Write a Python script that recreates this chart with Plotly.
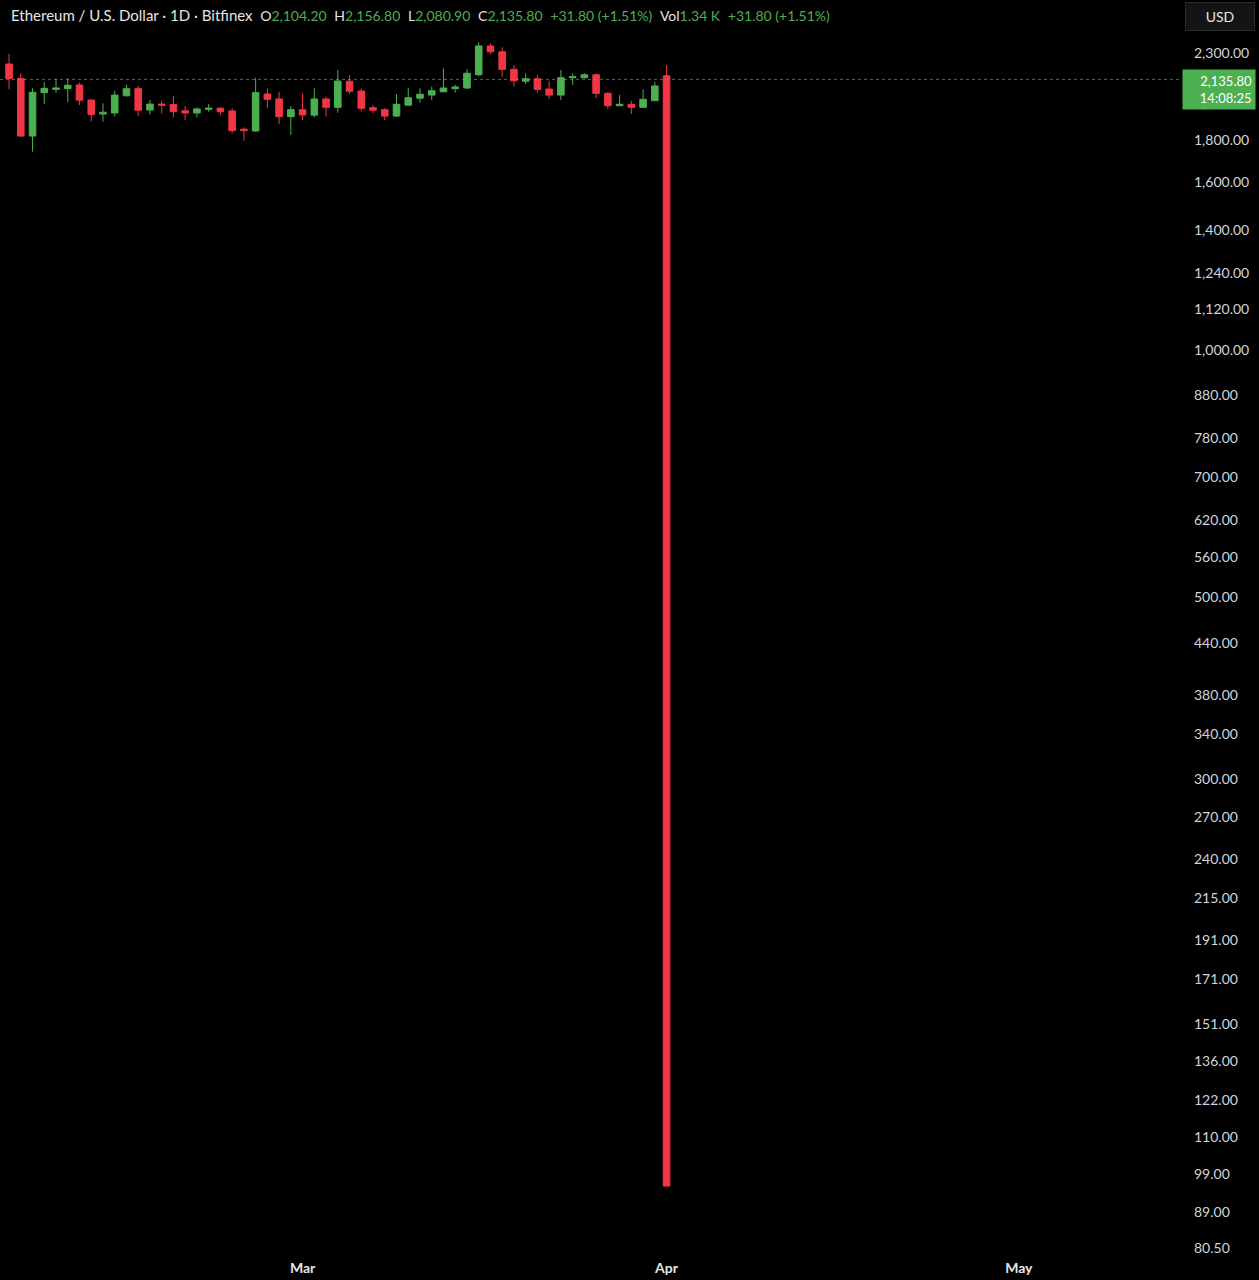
import plotly.graph_objects as go
import pandas as pd
import math

# ---------------- data ----------------
dates = pd.date_range("2025-02-04", "2025-04-01", freq="D")

opens = [2230, 2142, 1822, 2058, 2077, 2081, 2103, 2016, 1938, 1944,
         2040, 2081, 1960, 1993, 1990, 1956, 1944, 1964, 1970, 1955,
         1857, 1848, 2050, 2022, 1924, 1962, 1932, 2022, 1975, 2125,
         2067, 1973, 1962, 1927, 1987, 2026, 2044, 2063, 2081, 2085,
         2164, 2346, 2308, 2197, 2125, 2140, 2079, 2044, 2146, 2146,
         2164, 2054, 1984, 1992, 1975, 2012, 2158]
highs = [2294, 2173, 2083, 2119, 2142, 2142, 2116, 2020, 1997, 2069,
         2103, 2097, 2016, 2012, 2039, 1982, 1975, 1993, 1975, 1970,
         1867, 2146, 2083, 2063, 1982, 2054, 2083, 2035, 2193, 2161,
         2083, 1988, 1970, 2049, 2087, 2083, 2093, 2203, 2103, 2197,
         2370, 2363, 2337, 2224, 2173, 2162, 2128, 2193, 2173, 2173,
         2173, 2063, 2044, 2012, 2077, 2122, 2224]
lows = [2077, 1820, 1744, 1993, 2058, 2005, 1988, 1897, 1897, 1924,
        2035, 1927, 1935, 1942, 1920, 1906, 1920, 1951, 1933, 1836,
        1798, 1845, 1970, 1885, 1827, 1906, 1920, 1924, 1945, 2050,
        1951, 1942, 1906, 1922, 1982, 2001, 2016, 2062, 2058, 2079,
        2156, 2292, 2152, 2093, 2108, 2058, 2020, 2016, 2103, 2142,
        2026, 1966, 1982, 1938, 1971, 2010, 95.8]
closes = [2142, 1822, 2060, 2083, 2085, 2101, 2015, 1935, 1948, 2044,
          2081, 1959, 1993, 1987, 1951, 1944, 1966, 1970, 1951, 1850,
          1850, 2058, 2020, 1924, 1962, 1933, 2022, 1975, 2126, 2066,
          1970, 1959, 1927, 1992, 2029, 2049, 2069, 2085, 2091, 2173,
          2346, 2308, 2197, 2128, 2140, 2077, 2044, 2146, 2152, 2164,
          2054, 1984, 1992, 1975, 2020, 2097, 95.8]

last_price = 2135.80
countdown = "14:08:25"
header_name = "Ethereum / U.S. Dollar · 1D · Bitfinex"
header_vals = [("O", "2,104.20"), ("H", "2,156.80"), ("L", "2,080.90"), ("C", "2,135.80")]
header_change = "+31.80 (+1.51%)"
header_vol = "1.34 K"

y_ticks = [2300, 2000, 1800, 1600, 1400, 1240, 1120, 1000, 880, 780, 700, 620,
           560, 500, 440, 380, 340, 300, 270, 240, 215, 191, 171, 151, 136,
           122, 110, 99, 89, 80.5]
x_tick_dates = ["2025-03-01", "2025-04-01", "2025-05-01"]
x_tick_text = ["Mar", "Apr", "May"]

# ---------------- style ----------------
GREEN = "#4caf50"
RED = "#f23645"
BG = "#000000"
TXT = "#d1d4dc"
FONT = "Lato"

W, H = 1259, 1280
ML, MR, MT, MB = 0, 77, 30, 25
PW = W - ML - MR
PH = H - MT - MB

fig = go.Figure()
fig.add_trace(go.Candlestick(
    x=dates, open=opens, high=highs, low=lows, close=closes,
    increasing=dict(line=dict(color=GREEN, width=1), fillcolor=GREEN),
    decreasing=dict(line=dict(color=RED, width=1), fillcolor=RED),
    whiskerwidth=0, showlegend=False, hoverinfo="skip",
))

# last price dotted line
fig.add_shape(type="line", xref="paper", x0=0, x1=1, yref="y",
              y0=last_price, y1=last_price,
              line=dict(color=GREEN, width=1, dash="dot"), opacity=0.7)

# header
sp = "\u00a0"
W14 = 'style="font-size:14px;color:{c}"'
parts = [f'<span style="color:#e6e6e6">{header_name}</span>']
for lab, val in header_vals:
    parts.append(f'<span style="font-size:14px;color:#e6e6e6">{lab}</span>'
                 f'<span style="font-size:14px;color:{GREEN}">{val}</span>')
parts.append(f'<span style="font-size:14px;color:{GREEN}">{header_change}</span>')
parts.append(f'<span style="font-size:14px;color:#e6e6e6">Vol</span>'
             f'<span style="font-size:14px;color:{GREEN}">{header_vol}</span>')
parts.append(f'<span style="font-size:14px;color:{GREEN}">{header_change}</span>')
header = (sp * 2).join(parts)
fig.add_annotation(text=header, xref="paper", yref="paper",
                   x=9 / PW, y=1 + (MT - 15) / PH, xanchor="left", yanchor="middle",
                   showarrow=False, font=dict(family=FONT, size=15, color="#e6e6e6"))

# USD button
fig.add_annotation(text="USD", xref="paper", yref="paper",
                   x=(1220 - ML) / PW, y=1 + (MT - 16) / PH, xanchor="center", yanchor="middle",
                   showarrow=False, font=dict(family=FONT, size=14, color="#e6e6e6"),
                   bgcolor="#141414", bordercolor="#2a2a2a", borderwidth=1,
                   borderpad=5, width=58)

# last price label
fig.add_annotation(text=f"{last_price:,.2f}<br>{countdown}", xref="paper", yref="y",
                   x=1, y=math.log10(last_price), xanchor="left", yanchor="top",
                   yshift=10, showarrow=False, align="right",
                   font=dict(family=FONT, size=13, color="#ffffff"),
                   bgcolor=GREEN, borderpad=3, width=66)

fig.update_layout(
    width=W, height=H,
    margin=dict(l=ML, r=MR, t=MT, b=MB),
    paper_bgcolor=BG, plot_bgcolor=BG,
    boxgap=0.2,
    xaxis=dict(
        type="date", rangeslider=dict(visible=False),
        range=["2025-02-03 05:30", "2025-05-14 21:36"],
        tickvals=x_tick_dates, ticktext=x_tick_text,
        showgrid=False, zeroline=False, showline=False, ticks="",
        ticklabelstandoff=3,
        tickfont=dict(family=FONT, size=14, color="#e6e6e6", weight="bold"),
    ),
    yaxis=dict(
        type="log", side="right",
        range=[1.89745, 3.38976],
        tickvals=y_ticks, ticktext=[f"{v:,.2f}" for v in y_ticks],
        showgrid=False, zeroline=False, showline=False, ticks="",
        ticklabelstandoff=11,
        tickfont=dict(family=FONT, size=14, color=TXT),
    ),
    hovermode=False,
)

fig.write_html("out.html", config={"displayModeBar": False},
               post_script="document.body.style.margin='0';document.body.style.overflow='hidden';")
